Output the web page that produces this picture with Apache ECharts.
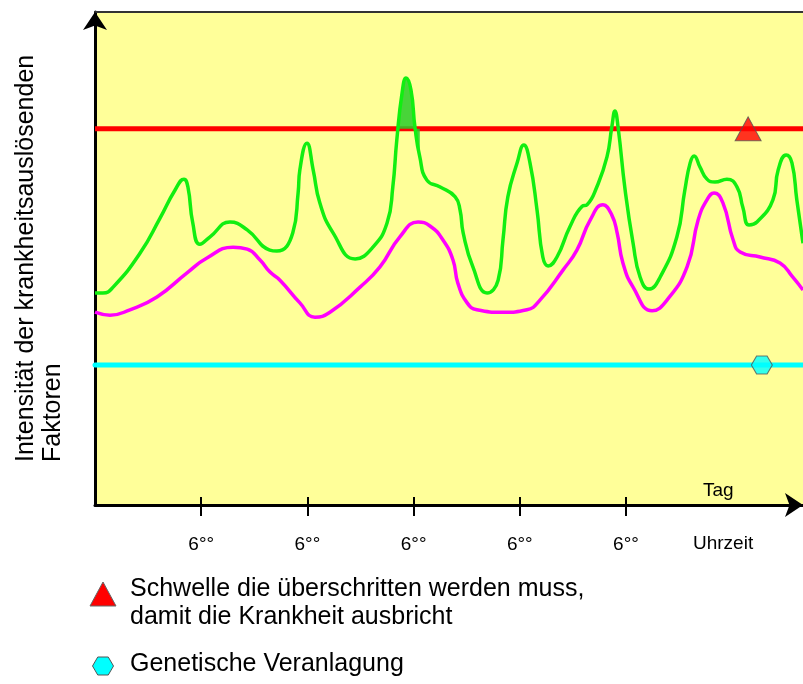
<!DOCTYPE html>
<html><head><meta charset="utf-8">
<script src="https://cdn.jsdelivr.net/npm/echarts@6/dist/echarts.min.js"></script>
<style>html,body{margin:0;padding:0;background:#fff}#c{width:803px;height:684px}</style>
</head><body><div id="c"></div>
<script>
// x = hours since the left edge, y = intensity (0..100)
const tickHours = [24, 48, 72, 96, 120];
const tickLabel = '6°°';
const threshold = 76.3;
const genetic = 28.4;
const thresholdMarkerHour = 147.6;
const geneticMarkerHour = 150.7;

const greenHours = [0,1.8,4.1,10.2,14.7,18.1,20.1,21.0,22.1,23.7,26.0,30.5,34.4,39.5,41.1,44.7,45.9,46.3,47.9,49.3,50.8,53.8,58.8,62.8,66.0,67.3,68.2,69.4,70.3,71.4,72.3,73.4,75.0,78.0,81.4,82.5,83.2,85.4,88.6,91.1,92.2,93.3,95.4,96.9,98.3,99.9,101.2,102.4,104.4,107.3,110.1,111.2,113.4,115.7,116.8,117.5,118.2,119.8,121.6,123.2,125.2,127.7,131.5,133.3,134.5,135.4,136.7,138.3,140.1,142.8,145.1,146.4,147.8,149.6,153.2,154.4,156.2,157.5,158.6,160];
const greenValues = [43.0,43.0,44.2,51.1,58.2,63.9,66.1,64.5,57.2,52.9,54.4,57.4,55.8,51.7,51.5,55.2,63.3,68.0,73.4,68.0,61.3,55.2,49.9,52.3,57.2,64.5,74.0,83.6,86.6,84.2,76.7,70.6,65.9,64.5,62.5,59.8,55.2,48.3,43.0,45.6,53.8,62.5,69.4,73.0,69.4,59.8,50.3,48.5,50.3,56.4,60.6,60.9,64.5,70.6,76.7,79.9,76.7,63.9,53.1,46.2,43.8,46.2,54.4,63.9,69.4,70.8,68.6,66.1,65.5,66.1,64.5,60.4,56.8,57.4,61.9,68.0,71.0,69.4,61.9,53.1];

const magentaHours = [0,3.4,7.9,14.0,20.8,25.3,31.2,34.4,37.3,39.5,41.8,46.3,49.7,53.1,59.9,64.4,68.9,73.0,75.7,78.6,80.9,82.0,84.1,86.3,92.2,97.6,100.6,105.8,108.9,111.9,114.8,116.8,118.0,119.3,121.6,125.9,129.3,133.8,136.3,138.3,139.9,141.9,144.2,145.8,150.3,154.8,157.7,160];
const magentaValues = [39.1,38.5,39.6,42.2,47.1,50.1,52.3,51.9,49.7,47.3,45.6,41.0,38.1,39.1,44.2,48.3,54.4,57.4,56.6,53.8,49.7,45.0,41.0,39.6,39.1,39.6,41.6,47.7,51.7,57.8,60.9,58.8,55.2,49.1,44.2,39.4,41.6,48.3,57.8,61.9,63.3,61.3,53.8,51.3,50.3,49.1,46.2,43.6];

// indices of the green peak that is shaded above the threshold
const peakFrom = 26, peakTo = 31;

const legendLine1 = 'Schwelle die überschritten werden muss,';
const legendLine2 = 'damit die Krankheit ausbricht';
const legendLine3 = 'Genetische Veranlagung';
const yLabel1 = 'Intensität der krankheitsauslösenden';
const yLabel2 = 'Faktoren';

const zip = (xs, ys) => xs.map((x, i) => [x, ys[i]]);
const FONT = '"Liberation Sans", Arial, sans-serif';
const HEX = 'path://M0,0.866 L0.5,0 L1.5,0 L2,0.866 L1.5,1.732 L0.5,1.732 Z';
const XMIN = 0, XMAX = 160;
const SMOOTH = 0.5;

const chart = echarts.init(document.getElementById('c'));
chart.setOption({
  animation: false,
  backgroundColor: '#ffffff',
  grid: {left: 95, right: 0, top: 12, bottom: 179, show: true, backgroundColor: '#ffff99', borderWidth: 0, containLabel: false, outerBoundsMode: 'none'},
  xAxis: [
    {type: 'value', min: XMIN, max: XMAX, position: 'bottom',
     axisLine: {show: true, onZero: false, lineStyle: {color: '#000', width: 3}, symbol: ['none', 'arrow'], symbolSize: [18, 18]},
     axisTick: {show: true, customValues: tickHours, length: 11, lineStyle: {color: '#000', width: 2}},
     axisLabel: {show: true, customValues: tickHours, formatter: () => tickLabel, margin: 30, fontSize: 19, color: '#000', fontFamily: FONT},
     splitLine: {show: false}},
    {type: 'value', min: XMIN, max: XMAX, position: 'bottom',
     axisLine: {show: false}, axisTick: {show: true, inside: true, customValues: tickHours, length: 8, lineStyle: {color: '#000', width: 2}},
     axisLabel: {show: false}, splitLine: {show: false}},
    {type: 'value', min: XMIN, max: XMAX, position: 'top',
     axisLine: {show: true, onZero: false, lineStyle: {color: '#333', width: 2}},
     axisTick: {show: false}, axisLabel: {show: false}, splitLine: {show: false}}
  ],
  yAxis: {type: 'value', min: 0, max: 100,
    axisLine: {show: true, onZero: false, lineStyle: {color: '#000', width: 3}, symbol: ['none', 'arrow'], symbolSize: [18, 18]},
    axisTick: {show: false}, axisLabel: {show: false}, splitLine: {show: false}},
  series: [
    {name: 'Auslöser 2', type: 'line', smooth: SMOOTH, showSymbol: false, data: zip(magentaHours, magentaValues),
     lineStyle: {color: '#ff00ff', width: 3.5}, z: 2},
    {name: legendLine3, type: 'line', showSymbol: false, data: [[XMIN, genetic], [XMAX, genetic]],
     lineStyle: {color: '#00ffff', width: 5, cap: 'round'}, z: 2},
    {name: legendLine1, type: 'line', showSymbol: false, data: [[XMIN, threshold], [XMAX, threshold]],
     lineStyle: {color: '#ff0000', width: 5}, z: 3},
    {name: 'Überschreitung', type: 'line', smooth: SMOOTH, showSymbol: false,
     data: zip(greenHours.slice(peakFrom, peakTo + 1), greenValues.slice(peakFrom, peakTo + 1)),
     lineStyle: {width: 0}, areaStyle: {origin: threshold, color: 'rgba(40,205,40,0.85)', opacity: 1}, z: 4},
    {name: 'Auslöser 1', type: 'line', smooth: SMOOTH, showSymbol: false, data: zip(greenHours, greenValues),
     lineStyle: {color: '#11ee11', width: 3.5}, z: 5},
    {name: 'Schwelle', type: 'scatter', symbol: 'triangle', symbolSize: [26, 24], data: [[thresholdMarkerHour, threshold]],
     itemStyle: {color: '#ff0000', borderColor: '#555', borderWidth: 1}, z: 6},
    {name: 'Veranlagung', type: 'scatter', symbol: HEX, symbolSize: [21, 18], data: [[geneticMarkerHour, genetic]],
     itemStyle: {color: '#00ffff', borderColor: '#555', borderWidth: 1}, z: 6}
  ],
  graphic: [
    {type: 'text', x: 26, y: 462, rotation: Math.PI / 2, style: {text: yLabel1, fill: '#000', fontSize: 25, fontFamily: FONT, align: 'left', verticalAlign: 'middle'}},
    {type: 'text', x: 53, y: 462, rotation: Math.PI / 2, style: {text: yLabel2, fill: '#000', fontSize: 25, fontFamily: FONT, align: 'left', verticalAlign: 'middle'}},
    {type: 'text', x: 703, y: 490.5, style: {text: 'Tag', fill: '#000', fontSize: 19, fontFamily: FONT, align: 'left', verticalAlign: 'middle'}},
    {type: 'text', x: 693, y: 543.5, style: {text: 'Uhrzeit', fill: '#000', fontSize: 19, fontFamily: FONT, align: 'left', verticalAlign: 'middle'}},
    {type: 'polygon', shape: {points: [[90, 606], [103, 582], [116, 606]]}, style: {fill: '#ff0000', stroke: '#666', lineWidth: 1}},
    {type: 'polygon', shape: {points: [[92.5, 666], [97.75, 657], [108.25, 657], [113.5, 666], [108.25, 675], [97.75, 675]]}, style: {fill: '#00ffff', stroke: '#555', lineWidth: 1}},
    {type: 'text', x: 130, y: 589, style: {text: legendLine1, fill: '#000', fontSize: 25, fontFamily: FONT, align: 'left', verticalAlign: 'middle'}},
    {type: 'text', x: 130, y: 617, style: {text: legendLine2, fill: '#000', fontSize: 25, fontFamily: FONT, align: 'left', verticalAlign: 'middle'}},
    {type: 'text', x: 130, y: 664, style: {text: legendLine3, fill: '#000', fontSize: 25, fontFamily: FONT, align: 'left', verticalAlign: 'middle'}}
  ]
});
</script>
</body></html>
